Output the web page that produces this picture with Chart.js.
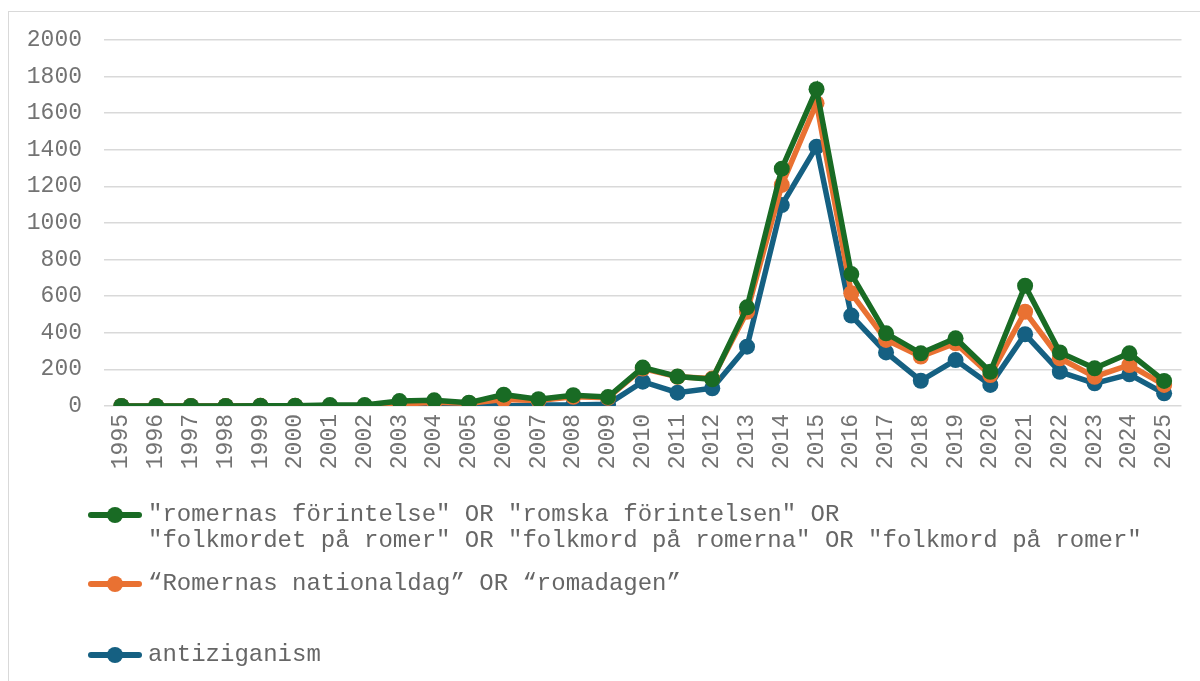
<!DOCTYPE html>
<html>
<head>
<meta charset="utf-8">
<script src="https://cdn.jsdelivr.net/npm/chart.js@4"></script>
<style>
  html, body { margin: 0; padding: 0; background: #fff; }
  #wrap { position: relative; width: 1200px; height: 681px; overflow: hidden; }
  #frame { position: absolute; left: 8px; top: 11px; width: 1300px; height: 800px; border: 1px solid #d9d9d9; box-sizing: border-box; }
  #chart { position: absolute; left: 0; top: 0; }
  .item { position: absolute; left: 88px; font-family: "Liberation Mono", "Courier New", monospace; font-size: 24px; line-height: 26px; color: #666666; white-space: pre; }
  .mark { position: absolute; left: 0; top: 10px; width: 54px; height: 6px; border-radius: 3px; }
  .dot { position: absolute; left: 19px; top: 5px; width: 16px; height: 16px; border-radius: 50%; }
  .txt { margin-left: 60px; }
</style>
</head>
<body>
<div id="wrap">
  <div id="frame"></div>
  <canvas id="chart" width="1200" height="681"></canvas>
  <div id="legend"></div>
</div>
<script>
const years = ['1995','1996','1997','1998','1999','2000','2001','2002','2003','2004','2005','2006','2007','2008','2009','2010','2011','2012','2013','2014','2015','2016','2017','2018','2019','2020','2021','2022','2023','2024','2025'];

const greenValues = [0,0,0,0,2,2,5,5,27,31,18,62,37,59,49,210,161,146,539,1297,1731,721,397,288,370,187,657,293,206,288,137];
const orangeValues = [0,0,0,0,1,1,2,2,10,20,15,35,30,50,45,205,160,150,515,1208,1655,616,361,270,343,169,515,261,160,224,115];
const blueValues = [0,0,0,0,0,0,0,0,0,5,8,0,5,5,10,133,73,97,324,1098,1417,494,293,138,251,115,392,187,124,173,69];

const seriesNames = [
  '"romernas förintelse" OR "romska förintelsen" OR\n"folkmordet på romer" OR "folkmord på romerna" OR "folkmord på romer"',
  '\u201CRomernas nationaldag\u201D OR \u201Cromadagen\u201D',
  'antiziganism'
];
const seriesColors = ['#196b24', '#e97132', '#156082'];

const yMin = 0, yMax = 2000, yStep = 200;

const fontFamily = '"Liberation Mono", "Courier New", monospace';

function makeSet(name, values, color) {
  return {
    label: name,
    data: values,
    borderColor: color,
    backgroundColor: color,
    borderWidth: 5.5,
    pointRadius: 8,
    pointHoverRadius: 8,
    pointBorderWidth: 0,
    tension: 0
  };
}

const ctx = document.getElementById('chart').getContext('2d');
new Chart(ctx, {
  type: 'line',
  data: {
    labels: years,
    datasets: [
      makeSet(seriesNames[0], greenValues, seriesColors[0]),
      makeSet(seriesNames[1], orangeValues, seriesColors[1]),
      makeSet(seriesNames[2], blueValues, seriesColors[2])
    ]
  },
  options: {
    responsive: false,
    animation: false,
    devicePixelRatio: 1,
    layout: { padding: { left: 0, right: 17, top: 40, bottom: 0 } },
    plugins: {
      legend: { display: false },
      tooltip: { enabled: false }
    },
    scales: {
      x: {
        offset: true,
        grid: { display: false, drawTicks: false },
        border: { display: false },
        ticks: {
          minRotation: 90,
          maxRotation: 90,
          autoSkip: false,
          padding: 8,
          color: '#737373',
          font: { family: fontFamily, size: 23 }
        },
        afterFit: function(scale) { scale.height = 681 - 406; }
      },
      y: {
        min: yMin,
        max: yMax,
        grid: { color: '#d9d9d9', lineWidth: 1.5, drawTicks: false },
        border: { display: false },
        ticks: {
          stepSize: yStep,
          padding: 22,
          color: '#737373',
          font: { family: fontFamily, size: 23 },
          callback: function(value) { return String(value); }
        },
        afterFit: function(scale) { scale.width = 104; }
      }
    }
  }
});

// legend below the chart, as html text
const legendTops = [502, 571, 642];
const legend = document.getElementById('legend');
seriesNames.forEach(function(name, i) {
  const item = document.createElement('div');
  item.className = 'item';
  item.style.top = legendTops[i] + 'px';
  const mark = document.createElement('div');
  mark.className = 'mark';
  mark.style.background = seriesColors[i];
  const dot = document.createElement('div');
  dot.className = 'dot';
  dot.style.background = seriesColors[i];
  const txt = document.createElement('div');
  txt.className = 'txt';
  txt.textContent = name;
  item.appendChild(mark);
  item.appendChild(dot);
  item.appendChild(txt);
  legend.appendChild(item);
});
</script>
</body>
</html>
